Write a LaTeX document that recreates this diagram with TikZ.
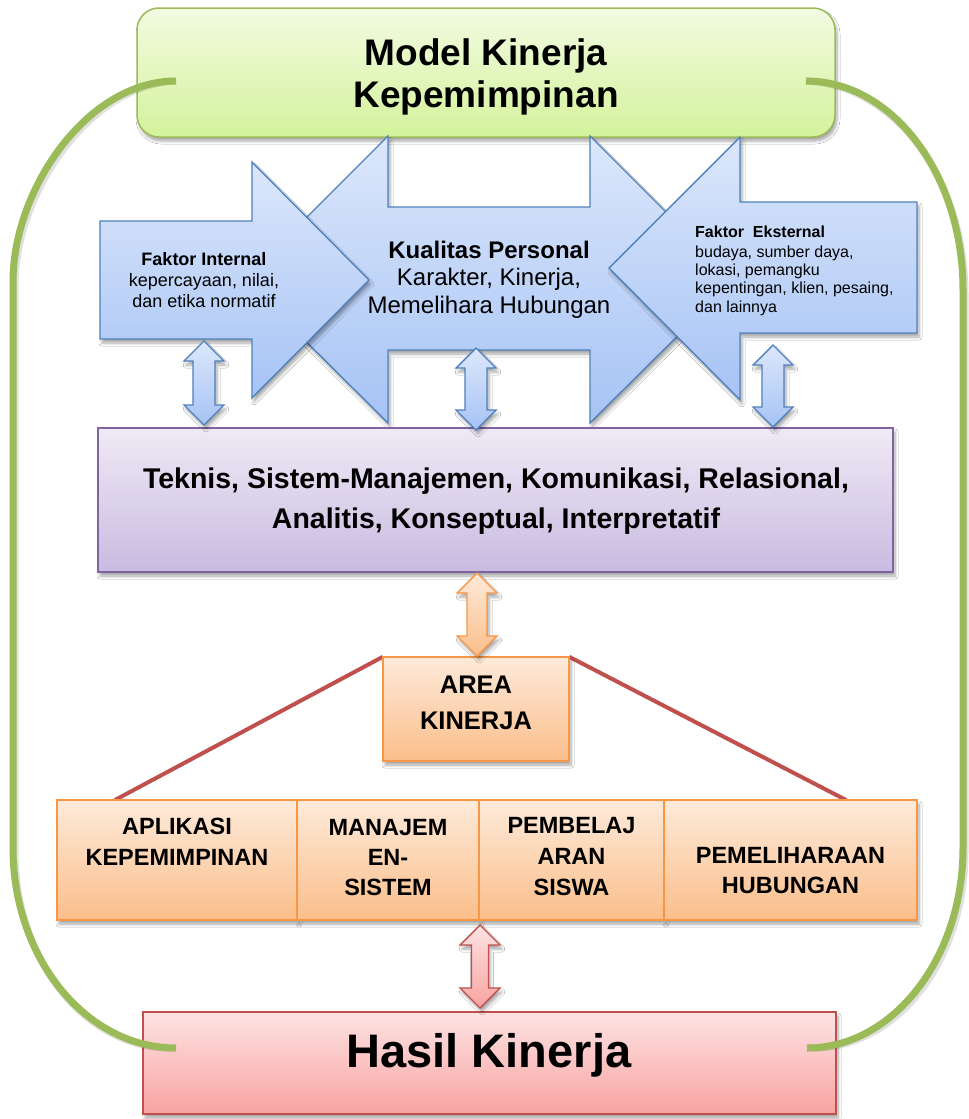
\documentclass[tikz,border=0pt]{standalone}
\usepackage{fontspec}
\setmainfont{Liberation Sans}
\usetikzlibrary{calc,shadows,shadows.blur}

\definecolor{blueTop}{HTML}{DCE7FB}
\definecolor{blueBot}{HTML}{A6C3F5}
\definecolor{blueLine}{HTML}{4F81BD}
\definecolor{grnTop}{HTML}{F2FBE2}
\definecolor{grnBot}{HTML}{D4F29B}
\definecolor{grnLine}{HTML}{9BBB59}
\definecolor{purTop}{HTML}{EFEAF6}
\definecolor{purBot}{HTML}{C8BBE0}
\definecolor{purLine}{HTML}{8064A2}
\definecolor{orTop}{HTML}{FDEADA}
\definecolor{orBot}{HTML}{FBBE8A}
\definecolor{orLine}{HTML}{F79646}
\definecolor{redTop}{HTML}{FDE3E3}
\definecolor{redBot}{HTML}{F8A3A1}
\definecolor{redLine}{HTML}{C0504D}

\newcommand\setsz[2]{\fontsize{#1}{#2}\selectfont}

% vertical two-headed arrow between two named points: style, top, bottom, half shaft width
\newcommand\updown[4]{%
  \path[#1] let \p1=(#2), \p2=(#3) in
    (\x1,\y1) -- (\x1+20pt,\y1-20pt) -- (\x1+#4,\y1-20pt) -- (\x1+#4,\y2+20pt)
    -- (\x1+20pt,\y2+20pt) -- (\x1,\y2) -- (\x1-20pt,\y2+20pt) -- (\x1-#4,\y2+20pt)
    -- (\x1-#4,\y1-20pt) -- (\x1-20pt,\y1-20pt) -- cycle;}

\begin{document}
\begin{tikzpicture}[x=1pt,y=-1pt,
  softshadow/.style={blur shadow={shadow xshift=2pt, shadow yshift=-4pt,
      shadow blur steps=6, shadow blur radius=3pt, shadow opacity=35}},
  bluefill/.style={top color=blueTop, bottom color=blueBot, draw=blueLine, line width=1.4pt, softshadow},
  grnbox/.style={rectangle, top color=grnTop, bottom color=grnBot, draw=grnLine, line width=1.5pt, softshadow},
  purbox/.style={rectangle, top color=purTop, bottom color=purBot, draw=purLine, line width=1.5pt, softshadow},
  orbox/.style={rectangle, top color=orTop, bottom color=orBot, draw=orLine, line width=1.8pt, softshadow},
  redbox/.style={rectangle, top color=redTop, bottom color=redBot, draw=redLine, line width=1.5pt, softshadow},
  orarrow/.style={top color=orTop, bottom color=orBot, draw=orLine, line width=1.4pt, softshadow},
  redarrow/.style={top color=redTop, bottom color=redBot, draw=redLine, line width=1.4pt, softshadow},
  txt/.style={inner sep=0pt, anchor=base, text=black},
  loopline/.style={draw=grnLine, line width=7pt},
  loopshade/.style={draw=black, opacity=0.12, line width=7pt, xshift=2pt, yshift=-4pt},
  fanline/.style={draw=redLine, line width=4pt},
]
\useasboundingbox (0,0) rectangle (969,1119);
\fill[white] (0,0) rectangle (969,1119);

% title box
\node[grnbox, minimum width=698pt, minimum height=129pt, rounded corners=22pt] (model) at (486,72.5) {};
\node[txt, font=\setsz{37}{42}\bfseries, align=center] (modeltxt) at (486,107)
  {Model Kinerja\\Kepemimpinan};

% central two-way arrow
\path[bluefill] (388,207) -- (388,136) -- (244,280) -- (388,423) -- (388,350)
  -- (590,350) -- (590,423) -- (734,280) -- (590,136) -- (590,207) -- cycle;
% internal factors arrow
\path[bluefill] (100,221) -- (252,221) -- (252,162) -- (369,280) -- (252,398)
  -- (252,339) -- (100,339) -- cycle;
% external factors arrow
\path[bluefill] (917,202) -- (740,202) -- (740,137) -- (609,268) -- (740,400)
  -- (740,333) -- (917,333) -- cycle;

\node[txt, font=\setsz{18}{21}, align=center] (fi) at (204,307)
  {\textbf{Faktor Internal}\\kepercayaan, nilai,\\dan etika normatif};
\node[txt, font=\setsz{24}{27.5}, align=center] (kp) at (489,313)
  {\textbf{Kualitas Personal}\\Karakter, Kinerja,\\Memelihara Hubungan};
\node[txt, font=\setsz{16}{18.3}, align=left, anchor=base west] (fe) at (695,312)
  {\textbf{Faktor\ \ Eksternal}\\[1.5pt]budaya, sumber daya,\\lokasi, pemangku\\kepentingan, klien, pesaing,\\dan lainnya};

% competencies box
\node[purbox, minimum width=795pt, minimum height=144pt] (komp) at (495.5,500) {};
\node[txt, font=\setsz{28.5}{40}\bfseries, align=center] (komptxt) at (496,528)
  {Teknis, Sistem-Manajemen, Komunikasi, Relasional,\\Analitis, Konseptual, Interpretatif};

% links between the factors and the competencies
\coordinate (i1t) at (204,341); \coordinate (i1b) at (204,425);
\coordinate (i2t) at (476,348); \coordinate (i2b) at (476,430);
\coordinate (i3t) at (773,345); \coordinate (i3b) at (773,427);
\updown{bluefill}{i1t}{i1b}{11pt}
\updown{bluefill}{i2t}{i2b}{11pt}
\updown{bluefill}{i3t}{i3b}{11pt}

% performance area and its branches
\coordinate (b1top) at (115,800);
\coordinate (b4top) at (846,800);
\node[rectangle, inner sep=0pt, minimum width=186pt, minimum height=104pt] (area) at (476,709) {};
\draw[fanline] (area.north west) -- (b1top);
\draw[fanline] (area.north east) -- (b4top);
\node[orbox, minimum width=186pt, minimum height=104pt] (areabox) at (area) {};
\node[txt, font=\setsz{25.5}{36}\bfseries, align=center] (areatxt) at (476,729) {AREA\\KINERJA};

\coordinate (oat) at (477,573); \coordinate (oab) at (477,656);
\updown{orarrow}{oat}{oab}{10pt}

\node[orbox, minimum width=240pt, minimum height=120pt] (box1) at (177,860) {};
\node[orbox, minimum width=182pt, minimum height=120pt] (box2) at (388,860) {};
\node[orbox, minimum width=185pt, minimum height=120pt] (box3) at (571.5,860) {};
\node[orbox, minimum width=253pt, minimum height=120pt] (box4) at (790.5,860) {};

\node[txt, font=\setsz{23.5}{31}\bfseries, align=center] (t1) at (177,865) {APLIKASI\\KEPEMIMPINAN};
\node[txt, font=\setsz{23.5}{30}\bfseries, align=center] (t2) at (388,895) {MANAJEM\\EN-\\SISTEM};
\node[txt, font=\setsz{23.5}{31}\bfseries, align=center] (t3) at (571.5,895) {PEMBELAJ\\ARAN\\SISWA};
\node[txt, font=\setsz{23.5}{30}\bfseries, align=center] (t4) at (790.5,893) {PEMELIHARAAN\\HUBUNGAN};

% outcome
\node[redbox, minimum width=693pt, minimum height=102pt] (hasil) at (489.5,1063) {};
\node[txt, font=\setsz{47}{50}\bfseries] (hasiltxt) at (489,1067) {Hasil Kinerja};

\coordinate (rat) at (480,925); \coordinate (rab) at (480,1008);
\updown{redarrow}{rat}{rab}{8.5pt}

% feedback loop from the model to the outcome
\coordinate (gl) at (176,81);  \coordinate (hl) at (176,1048);
\coordinate (gr) at (806,81);  \coordinate (hr) at (807,1048);
\draw[loopshade] (gl) .. controls (86,81) and (13,191) .. (13,281) -- (13,848)
  .. controls (13,958) and (86,1048) .. (hl);
\draw[loopshade] (gr) .. controls (893,81) and (963,175) .. (963,290) -- (963,848)
  .. controls (963,958) and (893,1048) .. (hr);
\draw[loopline] (gl) .. controls (86,81) and (13,191) .. (13,281) -- (13,848)
  .. controls (13,958) and (86,1048) .. (hl);
\draw[loopline] (gr) .. controls (893,81) and (963,175) .. (963,290) -- (963,848)
  .. controls (963,958) and (893,1048) .. (hr);
\end{tikzpicture}
\end{document}
